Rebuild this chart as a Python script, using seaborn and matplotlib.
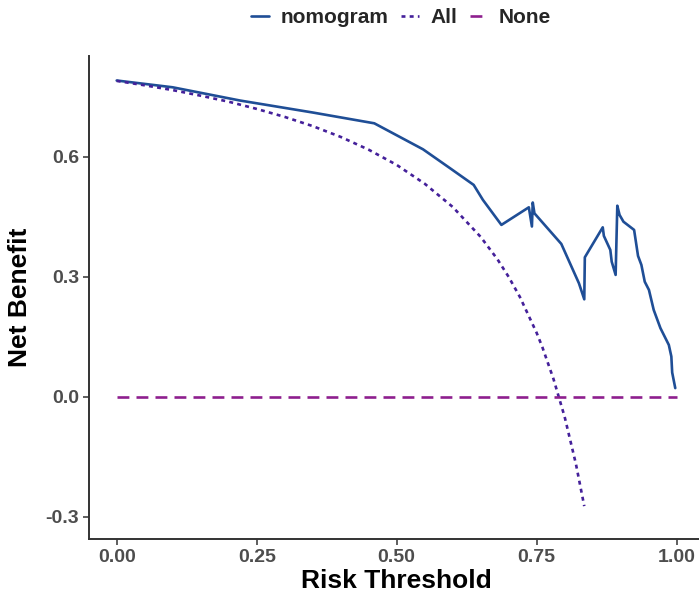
import matplotlib
matplotlib.use("Agg")
import matplotlib.pyplot as plt
import seaborn as sns
import pandas as pd

# decision curve values
nomo_thr = [0.0, 0.10, 0.22, 0.35, 0.46, 0.547, 0.595, 0.6375, 0.654, 0.687,
            0.736, 0.7415, 0.743, 0.746, 0.794, 0.8255, 0.835, 0.836, 0.868,
            0.870, 0.8815, 0.884, 0.891, 0.894, 0.898, 0.905, 0.924, 0.931,
            0.937, 0.943, 0.9505, 0.959, 0.971, 0.986, 0.9905, 0.992, 0.9975]
nomo_nb = [0.791, 0.774, 0.741, 0.711, 0.684, 0.619, 0.572, 0.530, 0.4925, 0.430,
           0.474, 0.426, 0.486, 0.459, 0.3825, 0.284, 0.244, 0.349, 0.424,
           0.4025, 0.3675, 0.338, 0.305, 0.478, 0.455, 0.438, 0.4175, 0.3525,
           0.330, 0.288, 0.2675, 0.2175, 0.172, 0.130, 0.101, 0.061, 0.022]

all_thr = [0.0, 0.05, 0.10, 0.15, 0.20, 0.25, 0.30, 0.35, 0.40, 0.45, 0.50,
           0.55, 0.60, 0.65, 0.68, 0.70, 0.72, 0.75, 0.76, 0.78, 0.80, 0.82, 0.835]
all_nb = [0.790, 0.779, 0.767, 0.753, 0.738, 0.720, 0.700, 0.677, 0.650, 0.618,
          0.580, 0.533, 0.475, 0.400, 0.344, 0.300, 0.250, 0.160, 0.125, 0.045,
          -0.050, -0.167, -0.273]

none_thr = [0.0, 1.0]
none_nb = [0.0, 0.0]

models = ["nomogram", "All", "None"]
colors = {"nomogram": "#1F4E96", "All": "#44209A", "None": "#8E1F8E"}
dashes = {"nomogram": "", "All": (1.5, 1.6), "None": (4.5, 2.7)}

df = pd.concat([
    pd.DataFrame({"threshold": nomo_thr, "net_benefit": nomo_nb, "model": "nomogram"}),
    pd.DataFrame({"threshold": all_thr, "net_benefit": all_nb, "model": "All"}),
    pd.DataFrame({"threshold": none_thr, "net_benefit": none_nb, "model": "None"}),
])

sns.set_theme(style="white")
plt.rcParams['font.family'] = ['Liberation Sans', 'DejaVu Sans']

fig = plt.figure(figsize=(6.99, 5.97), dpi=100)
ax = fig.add_axes([0.1273, 0.0966, 0.8804, 0.8101])

sns.lineplot(data=df, x="threshold", y="net_benefit", hue="model", style="model",
             hue_order=models, style_order=models, palette=colors, dashes=dashes,
             estimator=None, sort=False, linewidth=1.9, ax=ax)

ax.set_xlim(-0.0495, 1.0495)
ax.set_ylim(-0.356, 0.853)
ax.set_xticks([0.0, 0.25, 0.5, 0.75, 1.0])
ax.set_xticklabels(["0.00", "0.25", "0.50", "0.75", "1.00"])
ax.set_yticks([-0.3, 0.0, 0.3, 0.6])
ax.set_yticklabels(["-0.3", "0.0", "0.3", "0.6"])

for side in ["top", "right"]:
    ax.spines[side].set_visible(False)
for side in ["left", "bottom"]:
    ax.spines[side].set_color("#333333")
    ax.spines[side].set_linewidth(1.4)

ax.tick_params(axis="both", direction="out", length=4, width=1.1, color="#333333",
               bottom=True, left=True,
               labelsize=14, labelcolor="#4D4D4D", pad=3)
for lab in ax.get_xticklabels() + ax.get_yticklabels():
    lab.set_fontweight("bold")

ax.set_xlabel("Risk Threshold", fontsize=19, fontweight="bold", color="black", labelpad=2)
ax.set_ylabel("Net Benefit", fontsize=19, fontweight="bold", color="black", labelpad=10)

ax.legend_.remove()
handles, labels = ax.get_legend_handles_labels()
fig.legend(handles, labels, loc="center", bbox_to_anchor=(0.574, 0.97), ncol=3,
           frameon=False, handlelength=0.85, columnspacing=0.6, handletextpad=0.55,
           prop={"weight": "bold", "size": 15})

fig.savefig("out.png", dpi=100)
